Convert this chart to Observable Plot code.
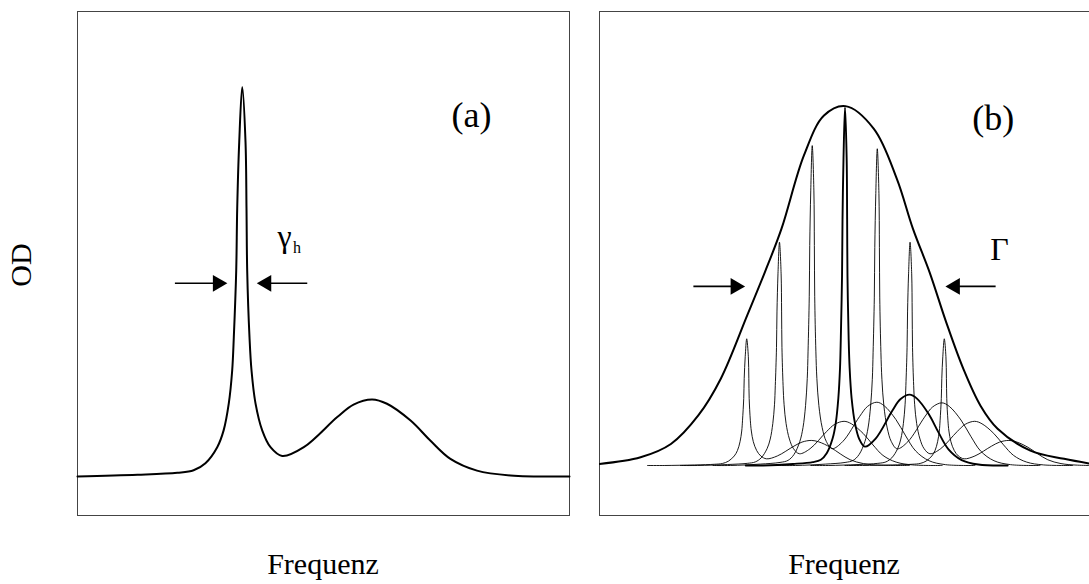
<!DOCTYPE html>
<html>
<head>
<meta charset="utf-8">
<script src="https://cdn.jsdelivr.net/npm/d3@7"></script>
<script src="https://cdn.jsdelivr.net/npm/@observablehq/plot@0.6"></script>
<style>
  html, body { margin: 0; padding: 0; background: #fff; overflow: hidden; }
  #chart { position: relative; width: 1089px; height: 584px; font-family: "Liberation Serif", "Times New Roman", serif; color: #000; }
  .lbl { position: absolute; font-size: 30px; line-height: 1; white-space: nowrap; }
</style>
</head>
<body>
<div id="chart"></div>
<script>
// ---------- Panel (a): single absorption line ----------
const profileFreq = [0, 12.2, 20.3, 23.6, 26.0, 28.4, 29.7, 30.75, 31.44, 31.77, 32.26, 32.46, 32.87, 33.48,
  34.15, 34.35, 34.49, 34.96, 35.37, 36.18, 37.54, 39.23, 41.6, 46.0, 52.8, 56.1, 59.9, 62.9, 67.7, 71.7, 75.8, 81.2, 88.0, 100];
const profileOD = [0, 0.43, 0.95, 1.6, 3.4, 7.49, 11.8, 18.7, 27.1, 35.6, 52.7, 68.5, 85.5, 99.6,
  85.5, 68.5, 52.7, 35.6, 27.1, 18.7, 11.8, 7.49, 5.24, 7.49, 15.2, 18.4, 19.7, 18.6, 14.3, 9.2, 4.5, 1.5, 0.26, 0];

// ---------- Panel (b): inhomogeneous envelope ----------
const envFreq = [0, 8.4, 14.6, 20.2, 24.8, 30.2, 33.8, 37.2, 41.8, 45.9, 50.3, 56.1, 60.8, 64.1, 67.5, 70.9, 74.4, 77.9, 81.4, 88.1, 95.0, 100.6];
const envOD = [0.4, 2.1, 5.5, 12.8, 22.2, 38.4, 49.4, 60.5, 79.3, 89.5, 91.9, 86.1, 73.3, 60.5, 49.4, 36.6, 24.7, 15.3, 9.4, 3.8, 1.7, 0.4];

// sub-ensemble lines: zero-phonon-line frequency and peak height
const subCenter = [30.1, 36.8, 43.5, 50.2, 56.8, 63.5, 70.5];
const subPeak = [32.4, 57.1, 81.8, 91.6, 81.0, 57.1, 32.4];
const subWidthRatio = 0.5;   // sub-lines in (b) are the (a) line at half the frequency extent
const subTailStart = -20.3;  // where each sub-line's baseline begins, relative to its peak
const boldLine = 3;

// ---------- annotations ----------
const arrowsA = [{x1: 19.9, x2: 28.5, y: 49.4, rot: 90}, {x1: 46.8, x2: 38.4, y: 49.4, rot: -90}];
const arrowsB = [{x1: 19.3, x2: 27.8, y: 45.8, rot: 90}, {x1: 81.1, x2: 72.7, y: 45.8, rot: -90}];
const labelsA = [{x: 80.1, y: 89.3, t: "(a)", s: 36}, {x: 42.1, y: 58.6, t: "γ", s: 32}, {x: 44.6, y: 57.1, t: "h", s: 16}];
const labelsB = [{x: 80.5, y: 85.9, t: "(b)", s: 36}, {x: 81.8, y: 52.6, t: "Γ", s: 32}];

// ---------- build tables ----------
const lineA = profileFreq.map((f, i) => ({f, od: profileOD[i]}));
const envelope = envFreq.map((f, i) => ({f, od: envOD[i]}));
const peakIdx = profileOD.indexOf(d3.max(profileOD));
const subData = [];
subCenter.forEach((c, k) => {
  subData.push({k, f: c + subTailStart, od: 0});
  profileFreq.forEach((f, i) => subData.push({
    k,
    f: c + (f - profileFreq[peakIdx]) * subWidthRatio,
    od: profileOD[i] * subPeak[k] / profileOD[peakIdx]
  }));
});

const font = "Liberation Serif, Times New Roman, serif";
const curve = "catmull-rom";

function arrowMarks(arrows) {
  return [
    Plot.ruleY(arrows, {x1: "x1", x2: "x2", y: "y", stroke: "black", strokeWidth: 1.6}),
    Plot.dot(arrows, {x: "x2", y: "y", symbol: "triangle", r: 6.2, rotate: "rot", fill: "black", stroke: "none"})
  ];
}
function labelMarks(labels) {
  return labels.map(l => Plot.text([l], {x: "x", y: "y", text: "t", fontSize: l.s, fontFamily: font,
    textAnchor: "middle", lineAnchor: "bottom", fill: "black"}));
}

const plotA = Plot.plot({
  width: 494, height: 506, margin: 1,
  style: {fontFamily: font, background: "transparent", overflow: "visible"},
  x: {domain: [0, 100], axis: null},
  y: {domain: [-9.97, 118.9], axis: null},
  marks: [
    Plot.frame({stroke: "#444", strokeWidth: 1}),
    Plot.line(lineA, {x: "f", y: "od", curve, stroke: "black", strokeWidth: 2}),
    ...arrowMarks(arrowsA),
    ...labelMarks(labelsA)
  ]
});

const plotB = Plot.plot({
  width: 494, height: 506, margin: 1,
  style: {fontFamily: font, background: "transparent", overflow: "visible"},
  x: {domain: [0, 100.6], axis: null},
  y: {domain: [-12.79, 116.1], axis: null},
  marks: [
    Plot.frame({stroke: "#444", strokeWidth: 1}),
    Plot.line(subData.filter(d => d.k !== boldLine), {x: "f", y: "od", z: "k", curve, stroke: "black", strokeWidth: 0.9, clip: true}),
    Plot.line(subData.filter(d => d.k === boldLine), {x: "f", y: "od", curve, stroke: "black", strokeWidth: 1.9, clip: true}),
    Plot.line(envelope, {x: "f", y: "od", curve, stroke: "black", strokeWidth: 2, clip: true}),
    ...arrowMarks(arrowsB),
    ...labelMarks(labelsB)
  ]
});

const chart = document.getElementById("chart");
for (const [el, left] of [[plotA, 76], [plotB, 598]]) {
  el.style.position = "absolute";
  el.style.left = left + "px";
  el.style.top = "10px";
  el.style.maxWidth = "none";
  chart.appendChild(el);
}

function addLabel(text, x, top, rotate) {
  const d = document.createElement("div");
  d.className = "lbl";
  d.textContent = text;
  d.style.left = x + "px";
  d.style.top = top + "px";
  d.style.transform = rotate ? "translate(-50%, -50%) rotate(-90deg)" : "translateX(-50%)";
  chart.appendChild(d);
}
addLabel("Frequenz", 323, 549, false);
addLabel("Frequenz", 844, 549, false);
addLabel("OD", 21, 265, true);
</script>
</body>
</html>
